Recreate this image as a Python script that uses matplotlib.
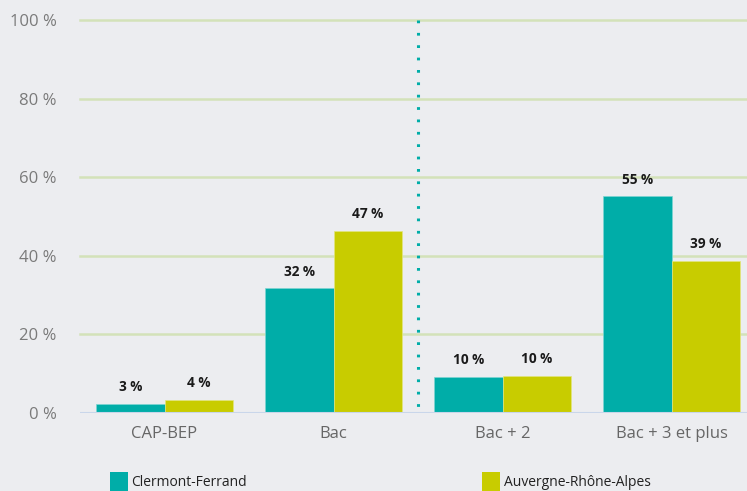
import matplotlib
matplotlib.use("Agg")
import matplotlib.pyplot as plt
from matplotlib.patches import Rectangle
import numpy as np

categories = ["CAP-BEP", "Bac", "Bac + 2", "Bac + 3 et plus"]
clermont = [2.4, 31.7, 9.2, 55.1]
aura = [3.4, 46.4, 9.5, 38.8]
clermont_labels = ["3 %", "32 %", "10 %", "55 %"]
aura_labels = ["4 %", "47 %", "10 %", "39 %"]
yticks = [0, 20, 40, 60, 80, 100]
series_names = ["Clermont-Ferrand", "Auvergne-Rhône-Alpes"]

TEAL = "#00ADA8"
LIME = "#C8CC00"
BG = "#ECEDF0"

plt.rcParams['font.family'] = ['Open Sans', 'DejaVu Sans']

fig = plt.figure(figsize=(7.47, 4.91), dpi=100, facecolor=BG)
ax = fig.add_axes([80/747, 1-413/491, 1-80/747, (413-20)/491])
ax.set_facecolor(BG)

x = np.arange(len(categories))
w = 0.405
b1 = ax.bar(x - w/2, clermont, w, color=TEAL, edgecolor="#7fd6d3", linewidth=0.5, zorder=3)
b2 = ax.bar(x + w/2, aura, w, color=LIME, edgecolor="#e3e57f", linewidth=0.5, zorder=3)

for rect, lab in zip(b1, clermont_labels):
    ax.text(rect.get_x() + rect.get_width()/2, rect.get_height() + 2.5, lab,
            ha="center", va="bottom", fontsize=9.8, fontweight="bold", color="#1a1a1a")
for rect, lab in zip(b2, aura_labels):
    ax.text(rect.get_x() + rect.get_width()/2, rect.get_height() + 2.5, lab,
            ha="center", va="bottom", fontsize=9.8, fontweight="bold", color="#1a1a1a")

ax.set_xlim(-0.5, 3.445)
ax.set_ylim(0, 100)
ax.set_yticks(yticks)
ax.set_yticklabels([f"{v} %" for v in yticks], fontsize=12, color="#7a7a7a")
ax.set_xticks(x)
ax.set_xticklabels(categories, fontsize=12, color="#666666")
ax.tick_params(axis="both", length=0)
ax.tick_params(axis="y", pad=17)
ax.tick_params(axis="x", pad=9)

for v in yticks[1:]:
    ax.axhline(v, color="#d3e2b9", linewidth=1.8, zorder=1, clip_on=False)
ax.axhline(0, color="#c9d6ea", linewidth=1.5, zorder=4)

ax.plot([1.5, 1.5], [100, 0.5], color=TEAL, linestyle=(0, (0.9, 3.15)), linewidth=2.2,
        zorder=2, solid_capstyle="butt", dash_capstyle="butt")

for s in ax.spines.values():
    s.set_visible(False)

# legend
fig.patches.append(Rectangle((110/747, 0), 18/747, 19/491, transform=fig.transFigure,
                             facecolor=TEAL, edgecolor="none"))
fig.text(131/747, 9/491, series_names[0], fontsize=10, color="#222222", va="center")
fig.patches.append(Rectangle((482/747, 0), 18/747, 19/491, transform=fig.transFigure,
                             facecolor=LIME, edgecolor="none"))
fig.text(504/747, 9/491, series_names[1], fontsize=10, color="#222222", va="center")

fig.savefig("out.png", dpi=100, facecolor=BG)
